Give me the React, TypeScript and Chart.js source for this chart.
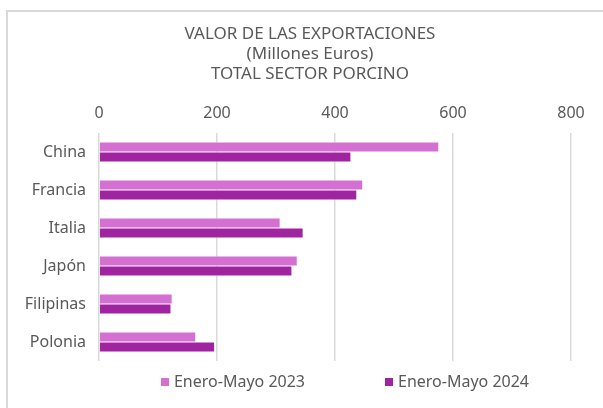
import React, { useEffect, useRef } from "react";
import { Chart, registerables } from "chart.js";

Chart.register(...registerables);

const categories = ["China", "Francia", "Italia", "Japón", "Filipinas", "Polonia"];
const series2023 = [576, 447, 307, 336, 124, 164];
const series2024 = [427, 437, 346, 327, 122, 196];
const seriesLabels = ["Enero-Mayo 2023", "Enero-Mayo 2024"];
const titleLines = ["VALOR DE LAS EXPORTACIONES", "(Millones Euros)", "TOTAL SECTOR PORCINO"];
const xTicks = [0, 200, 400, 600, 800];

const FONT = "'Noto Sans', sans-serif";
const TEXT = "#595959";

const legendPlugin = {
  id: "customLegend",
  afterDraw(chart: any) {
    const ctx = chart.ctx;
    ctx.save();
    ctx.font = `16px ${FONT}`;
    ctx.textBaseline = "middle";
    ctx.textAlign = "left";
    const box = 8;
    const gapBox = 5;
    const gapItem = 80;
    const items = chart.data.datasets.map((d: any) => ({
      text: d.label,
      color: d.backgroundColor,
      w: ctx.measureText(d.label).width,
    }));
    const total = items.reduce((s: number, it: any) => s + box + gapBox + it.w, 0) + gapItem * (items.length - 1);
    let x = 345 - total / 2;
    const y = 382;
    items.forEach((it: any) => {
      ctx.fillStyle = it.color;
      ctx.fillRect(x, y - box / 2, box, box);
      x += box + gapBox;
      ctx.fillStyle = TEXT;
      ctx.fillText(it.text, x, y);
      x += it.w + gapItem;
    });
    ctx.restore();
  },
};

export default function App() {
  const ref = useRef<HTMLCanvasElement>(null);
  useEffect(() => {
    if (!ref.current) return;
    const chart = new Chart(ref.current, {
      type: "bar",
      data: {
        labels: categories,
        datasets: [
          {
            label: seriesLabels[0],
            data: series2023,
            backgroundColor: "#D370D1",
            borderColor: "#ffffff",
            borderWidth: 0.5,
            categoryPercentage: 0.53,
            barPercentage: 1,
          },
          {
            label: seriesLabels[1],
            data: series2024,
            backgroundColor: "#A0239F",
            borderColor: "#ffffff",
            borderWidth: 0.5,
            categoryPercentage: 0.53,
            barPercentage: 1,
          },
        ],
      },
      options: {
        indexAxis: "y",
        animation: false,
        responsive: true,
        maintainAspectRatio: false,
        layout: { padding: { top: 13, left: 8, right: 28, bottom: 47 } },
        plugins: {
          legend: { display: false },
          tooltip: { enabled: false },
          title: {
            display: true,
            text: titleLines,
            color: TEXT,
            font: { family: FONT, size: 17, weight: "normal", lineHeight: "20px" },
            padding: { top: 11, bottom: 0 },
          },
        },
        scales: {
          x: {
            position: "top",
            min: 0,
            max: 800,
            afterBuildTicks: (scale: any) => {
              scale.ticks = xTicks.map((v) => ({ value: v }));
            },
            afterFit: (scale: any) => {
              scale.height = 49;
            },
            grid: { color: "#d9d9d9", lineWidth: 1.5, drawTicks: false },
            border: { display: false },
            ticks: { color: TEXT, font: { family: FONT, size: 16 }, padding: 10 },
          },
          y: {
            afterFit: (scale: any) => {
              scale.width = 91;
            },
            grid: { display: false, drawTicks: false },
            border: { display: false },
            ticks: { color: TEXT, font: { family: FONT, size: 16 }, padding: 13 },
          },
          yRight: {
            type: "category",
            position: "right",
            afterFit: (scale: any) => {
              scale.width = 41;
            },
            grid: { display: false, drawTicks: false },
            border: { display: false },
            ticks: { display: false },
          },
        },
      },
      plugins: [legendPlugin],
    });
    return () => chart.destroy();
  }, []);
  return (
    <div style={{ position: "fixed", left: 0, top: 0, width: 603, height: 408, overflow: "hidden", background: "#fff" }}>
      <div
        style={{
          position: "absolute",
          left: 6,
          top: 10,
          width: 700,
          height: 500,
          border: "2px solid #d9d9d9",
        }}
      />
      <div style={{ position: "absolute", left: 0, top: 0, width: 640, height: 408 }}>
        <canvas ref={ref} />
      </div>
    </div>
  );
}
